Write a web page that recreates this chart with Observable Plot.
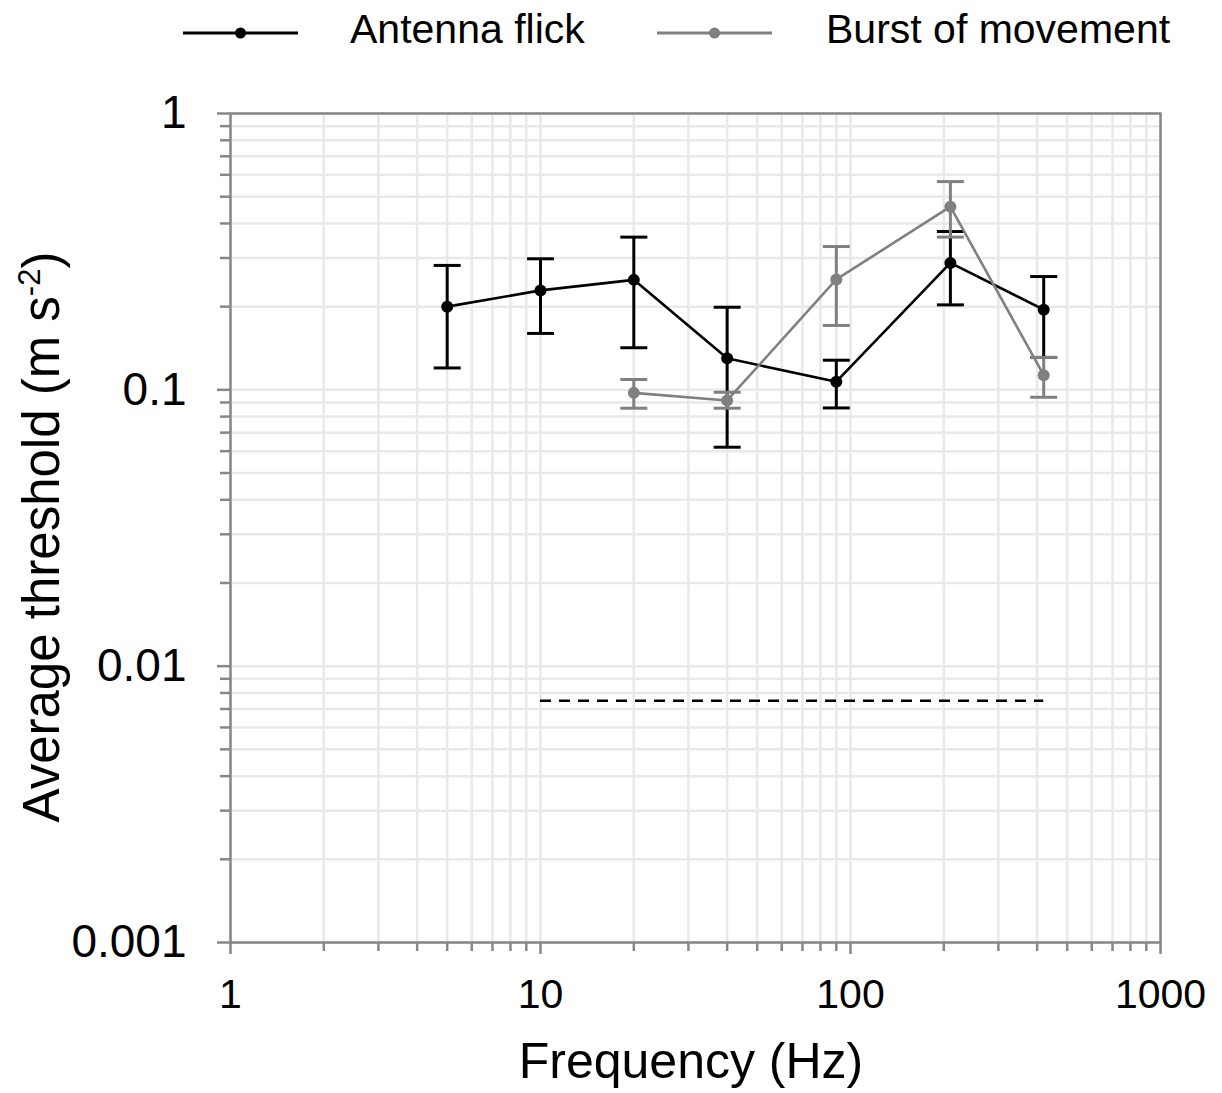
<!DOCTYPE html>
<html>
<head>
<meta charset="utf-8">
<script src="https://cdn.jsdelivr.net/npm/d3@7"></script>
<script src="https://cdn.jsdelivr.net/npm/@observablehq/plot@0.6"></script>
<style>
  html, body { margin: 0; padding: 0; background: #fff; }
  body { width: 1222px; height: 1093px; overflow: hidden; font-family: "Liberation Sans", Arial, sans-serif; }
  #legend { display: block; }
  #chart svg { display: block; }
</style>
</head>
<body>
<svg id="legend" width="1222" height="60"></svg>
<div id="chart"></div>
<script>
// ---- data ----
const flickFreq = [5, 10, 20, 40, 90, 210, 420];
const flickMean = [0.200, 0.229, 0.250, 0.130, 0.107, 0.288, 0.195];
const flickLow  = [0.120, 0.160, 0.142, 0.062, 0.086, 0.203, 0.131];
const flickHigh = [0.282, 0.298, 0.357, 0.199, 0.128, 0.374, 0.257];

const burstFreq = [20, 40, 90, 210, 420];
const burstMean = [0.0975, 0.0915, 0.251, 0.460, 0.113];
const burstLow  = [0.0858, 0.0858, 0.171, 0.357, 0.094];
const burstHigh = [0.109, 0.098, 0.330, 0.567, 0.131];

const noiseFreq = [10, 420];
const noiseLevel = 0.0075;

const xMajor = [1, 10, 100, 1000];
const yMajor = [0.001, 0.01, 0.1, 1];
const seriesNames = ["Antenna flick", "Burst of movement"];

// ---- build ----
const flick = flickFreq.map((f, i) => ({f, m: flickMean[i], lo: flickLow[i], hi: flickHigh[i]}));
const burst = burstFreq.map((f, i) => ({f, m: burstMean[i], lo: burstLow[i], hi: burstHigh[i]}));

function minors(majors) {
  const out = [];
  for (let k = 0; k < majors.length - 1; k++) for (let j = 2; j <= 9; j++) out.push(+(majors[k] * j).toPrecision(6));
  return out;
}
const xMinor = minors(xMajor);
const yMinor = minors(yMajor);
const xAll = [...xMajor, ...xMinor];
const yAll = [...yMajor, ...yMinor];

const capSymbol = { draw(ctx) { ctx.moveTo(-13.5, 0); ctx.lineTo(13.5, 0); } };
const BLACK = "#000000", GRAY = "#808080", AXIS = "#878787", GRID = "#e9e9e9";

function seriesMarks(data, color) {
  return [
    Plot.ruleX(data, {x: "f", y1: "lo", y2: "hi", stroke: color, strokeWidth: 3}),
    Plot.dot(data, {x: "f", y: "hi", symbol: capSymbol, r: 5, stroke: color, fill: "none", strokeWidth: 3}),
    Plot.dot(data, {x: "f", y: "lo", symbol: capSymbol, r: 5, stroke: color, fill: "none", strokeWidth: 3}),
    Plot.line(data, {x: "f", y: "m", stroke: color, strokeWidth: 2.6}),
    Plot.dot(data, {x: "f", y: "m", r: 6, fill: color, stroke: "none"})
  ];
}

const plot = Plot.plot({
  width: 1222,
  height: 1033,
  marginTop: 53,
  marginLeft: 230,
  marginRight: 62,
  marginBottom: 151,
  style: {fontFamily: "'Liberation Sans', Arial, sans-serif", color: "#000", background: "#fff"},
  x: {type: "log", domain: [1, 1000]},
  y: {type: "log", domain: [0.001, 1]},
  marks: [
    Plot.gridX(xAll, {stroke: GRID, strokeOpacity: 1, strokeWidth: 2.5}),
    Plot.gridY(yAll, {stroke: GRID, strokeOpacity: 1, strokeWidth: 2.5}),
    Plot.axisX(xMinor, {tickSize: 9, tickFormat: () => "", stroke: AXIS, strokeWidth: 2.5, label: null}),
    Plot.axisX(xMajor, {tickSize: 12, tickPadding: 24, tickFormat: d => String(d), stroke: AXIS, strokeWidth: 2.5, fontSize: 41, fill: "#000", label: null}),
    Plot.axisY(yMinor, {tickSize: 10, tickFormat: () => "", stroke: AXIS, strokeWidth: 2.5, label: null}),
    Plot.axisY(yMajor, {tickSize: 13, tickPadding: 31, tickFormat: d => String(d), stroke: AXIS, strokeWidth: 2.5, fontSize: 46, fill: "#000", label: null}),
    Plot.frame({stroke: AXIS, strokeWidth: 2.5}),
    Plot.ruleY([noiseLevel], {x1: noiseFreq[0], x2: noiseFreq[1], stroke: BLACK, strokeWidth: 2.4, strokeDasharray: "11,8"}),
    ...seriesMarks(flick, BLACK),
    ...seriesMarks(burst, GRAY)
  ]
});
document.getElementById("chart").appendChild(plot);

const svg = d3.select(plot);
// y axis title with superscript
const yt = svg.append("text")
  .attr("transform", `translate(59, ${537 - 60}) rotate(-90)`)
  .attr("text-anchor", "middle")
  .attr("font-size", 51)
  .attr("fill", "#000");
yt.append("tspan").text("Average threshold (m s");
yt.append("tspan").attr("font-size", 31).attr("dy", -19).text("-2");
yt.append("tspan").attr("dy", 19).text(")");

// x axis title
svg.append("text")
  .attr("x", 691)
  .attr("y", 1078 - 60)
  .attr("text-anchor", "middle")
  .attr("font-size", 50)
  .attr("fill", "#000")
  .text("Frequency (Hz)");

// legend (above)
const lg = d3.select("#legend");
const legendItems = [
  {name: seriesNames[0], color: BLACK, x1: 183, x2: 298, tx: 350},
  {name: seriesNames[1], color: GRAY, x1: 657, x2: 772, tx: 826}
];
for (const it of legendItems) {
  lg.append("line").attr("x1", it.x1).attr("x2", it.x2).attr("y1", 33).attr("y2", 33)
    .attr("stroke", it.color).attr("stroke-width", 3);
  lg.append("circle").attr("cx", (it.x1 + it.x2) / 2).attr("cy", 33).attr("r", 5.5).attr("fill", it.color);
  lg.append("text").attr("x", it.tx).attr("y", 43).attr("font-size", 41)
    .attr("font-family", "'Liberation Sans', Arial, sans-serif").attr("fill", "#000").text(it.name);
}
</script>
</body>
</html>
